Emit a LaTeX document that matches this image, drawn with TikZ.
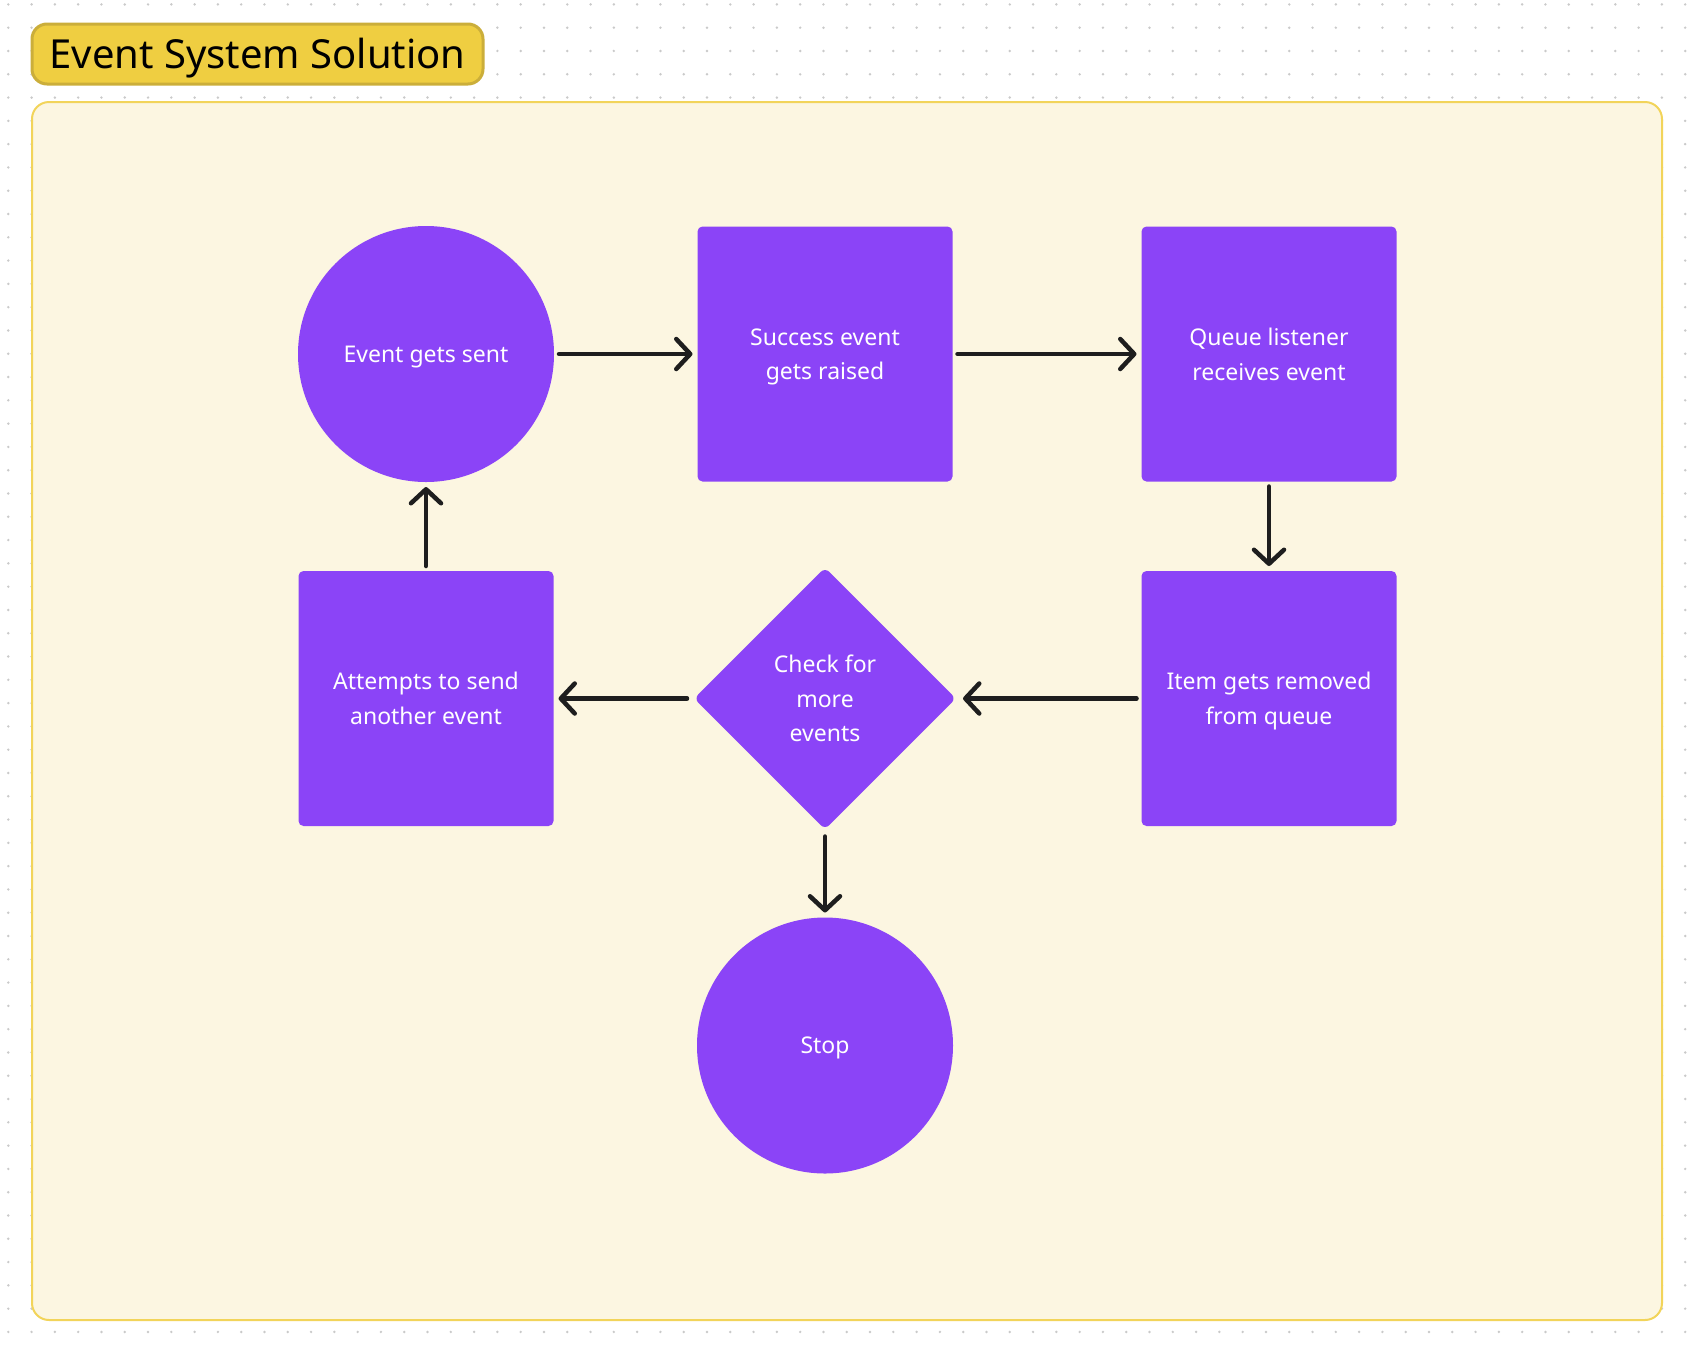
\documentclass[tikz,border=0pt]{standalone}
\usepackage{fontspec}
\setmainfont{Noto Sans}
\usetikzlibrary{arrows.meta,shapes.geometric}
\definecolor{purp}{HTML}{8B44F7}
\definecolor{cream}{HTML}{FCF6E1}
\definecolor{frameline}{HTML}{F2D45A}
\definecolor{titlefill}{HTML}{EFCE41}
\definecolor{titleline}{HTML}{CBAE3A}
\definecolor{dotgray}{HTML}{CACACA}
\definecolor{arrowc}{HTML}{1E1E1E}
\tikzset{
  dotrow/.style={line width=2.7pt, line cap=round, dash pattern=on 0pt off 23.29pt, draw=dotgray},
  framebox/.style={draw=frameline, fill=cream, line width=2pt, rounded corners=17pt},
  titlebox/.style={draw=titleline, fill=titlefill, line width=3pt, rounded corners=15pt,
    minimum width=451pt, minimum height=60pt, inner sep=0pt, text=black,
    text height=28.5pt, text depth=0pt,
    font=\fontsize{40}{48}\selectfont},
  flow/.style={fill=purp, text=white, inner sep=0pt, outer sep=5pt, align=center,
    text depth=0pt, font=\fontsize{23}{34.6}\selectfont},
  flowrect/.style={flow, rectangle, minimum width=255pt, minimum height=255pt, rounded corners=5pt},
  flowcirc/.style={flow, circle, minimum size=256pt},
  flowdiam/.style={flow, diamond, minimum width=266pt, minimum height=266pt, rounded corners=6pt},
  arr/.style={draw=arrowc, line width=4.5pt, line cap=round,
    -{Straight Barb[length=14pt,width=30pt,round]}}
}
\begin{document}
\begin{tikzpicture}[x=1pt,y=-1pt]
\useasboundingbox (0,0) rectangle (1695,1353);
\fill[white] (0,0) rectangle (1695,1353);
\foreach \j in {0,...,57} {
  \draw[dotrow] (8.3,{4.4+23.29*\j}) -- (1695,{4.4+23.29*\j});
}
\draw[framebox] (32,102) rectangle (1662,1320);
\node[titlebox] (title) at (257.5,54) {Event System Solution};

\node[flowcirc] (sent) at (426,354) {Event gets sent};
\node[flowrect] (raised) at (825,354) {Success event\\gets raised};
\node[flowrect] (listener) at (1269,354) {Queue listener\\receives event};
\node[flowrect] (attempt) at (426,698.5) {Attempts to send\\another event};
\node[flowdiam] (check) at (825,698.5) {Check for\\more\\events};
\node[flowrect] (removed) at (1269,698.5) {Item gets removed\\from queue};
\node[flowcirc] (stop) at (825,1045.5) {Stop};

\draw[arr] (sent) -- (raised);
\draw[arr] (raised) -- (listener);
\draw[arr] (listener) -- (removed);
\draw[arr] (removed) -- (check);
\draw[arr] (check) -- (attempt);
\draw[arr] (attempt) -- (sent);
\draw[arr] (check) -- (stop);
\end{tikzpicture}
\end{document}
